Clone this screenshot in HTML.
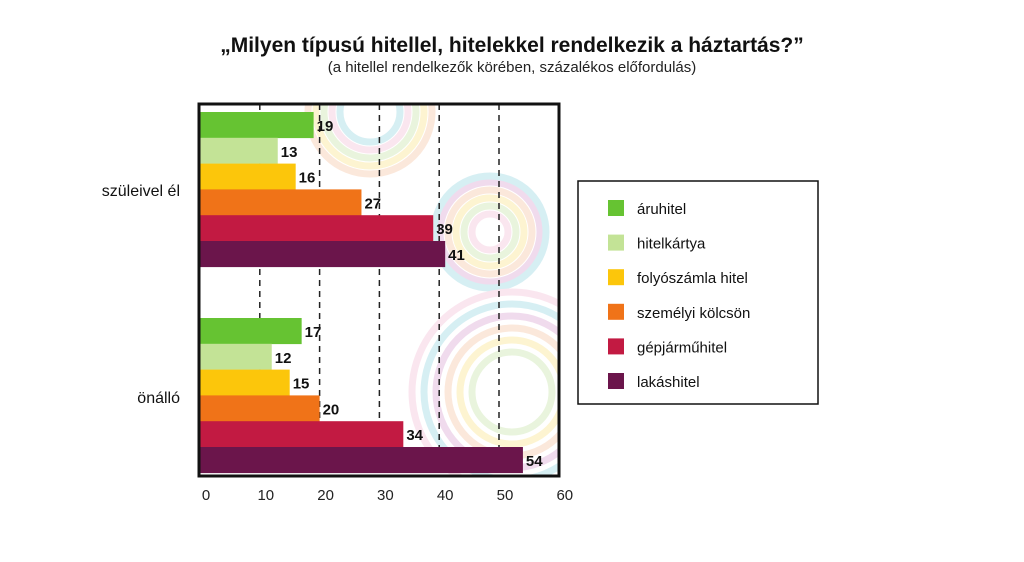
<!DOCTYPE html>
<html><head><meta charset="utf-8"><style>
body{margin:0;background:#fff;width:1024px;height:557px;overflow:hidden;font-family:"Liberation Sans","DejaVu Sans",sans-serif}
</style></head><body>
<svg width="1024" height="557">
<text x="512" y="52" text-anchor="middle" font-size="21" font-weight="bold" fill="#111">„Milyen típusú hitellel, hitelekkel rendelkezik a háztartás?”</text>
<text x="512" y="72" text-anchor="middle" font-size="15" fill="#222">(a hitellel rendelkezők körében, százalékos előfordulás)</text>
<defs><clipPath id="pc"><rect x="200" y="104" width="358" height="372"/></clipPath></defs>
<g id="deco" clip-path="url(#pc)" opacity="0.45"></g>
<g id="grid"></g>
<g id="bars"></g>
<rect x="199" y="104" width="360" height="372" fill="none" stroke="#111" stroke-width="3"/>
<g id="xt"></g>
<text x="180" y="196" text-anchor="end" font-size="16" fill="#111">szüleivel él</text>
<text x="180" y="403" text-anchor="end" font-size="16" fill="#111">önálló</text>
<rect x="578" y="181" width="240" height="223" fill="#fff" stroke="#111" stroke-width="1.5"/>
<g id="leg"></g>
</svg>
<script>
const categories=["szüleivel él","önálló"];
const seriesNames=["áruhitel","hitelkártya","folyószámla hitel","személyi kölcsön","gépjárműhitel","lakáshitel"];
const seriesColors=["#66c332","#c3e396","#fcc60b","#f07318","#c21a42","#6b154b"];
const values=[[19,13,16,27,39,41],[17,12,15,20,34,54]];
const xTicks=[0,10,20,30,40,50,60];
const NS="http://www.w3.org/2000/svg";
function el(t,a,p){const e=document.createElementNS(NS,t);for(const k in a)e.setAttribute(k,a[k]);p.appendChild(e);return e;}
const x=v=>200+v*5.98;
const groupTop=[112,318],bh=25.8;
const deco=document.getElementById('deco');
const rc=["#a6dce6","#f6c9dd","#cfe8b5","#fbe89a","#f8cdb0","#e0b0d8"];
[[370,112,[30,38,46,54,62]],[490,232,[18,26,34,42,50,56]],[512,392,[40,52,64,76,88,100]]].forEach((c,ci)=>{
 c[2].forEach((r,i)=>{const e=el('circle',{cx:c[0],cy:c[1],r:r,fill:'none',stroke:rc[(i+ci)%6],'stroke-width':7},deco);
 });});
const grid=document.getElementById('grid');
xTicks.slice(1,6).forEach(t=>{const l=el('line',{x1:x(t),x2:x(t),y1:104,y2:476,stroke:'#222','stroke-width':1.5,'stroke-dasharray':'6,5'},grid);
 });
const bars=document.getElementById('bars');
values.forEach((g,gi)=>g.forEach((v,si)=>{const y=groupTop[gi]+si*bh;
 const r=el('rect',{x:200,y:y,width:x(v)-200,height:bh+0.3,fill:seriesColors[si]},bars);
 
 const t=el('text',{x:x(v)+3,y:y+19,'font-size':15,'font-weight':'bold',fill:'#111'},bars);t.textContent=v;
 }));
const xt=document.getElementById('xt');
xTicks.forEach(t=>{const e=el('text',{x:x(t)+6,y:500,'text-anchor':'middle','font-size':15,fill:'#222'},xt);e.textContent=t;
 });
const leg=document.getElementById('leg');
seriesNames.forEach((n,i)=>{const y=200+i*34.6;
 const s=el('rect',{x:608,y:y,width:16,height:16,fill:seriesColors[i]},leg);
 const t=el('text',{x:637,y:y+14,'font-size':15,fill:'#111'},leg);t.textContent=n;});
</script>
</body></html>
